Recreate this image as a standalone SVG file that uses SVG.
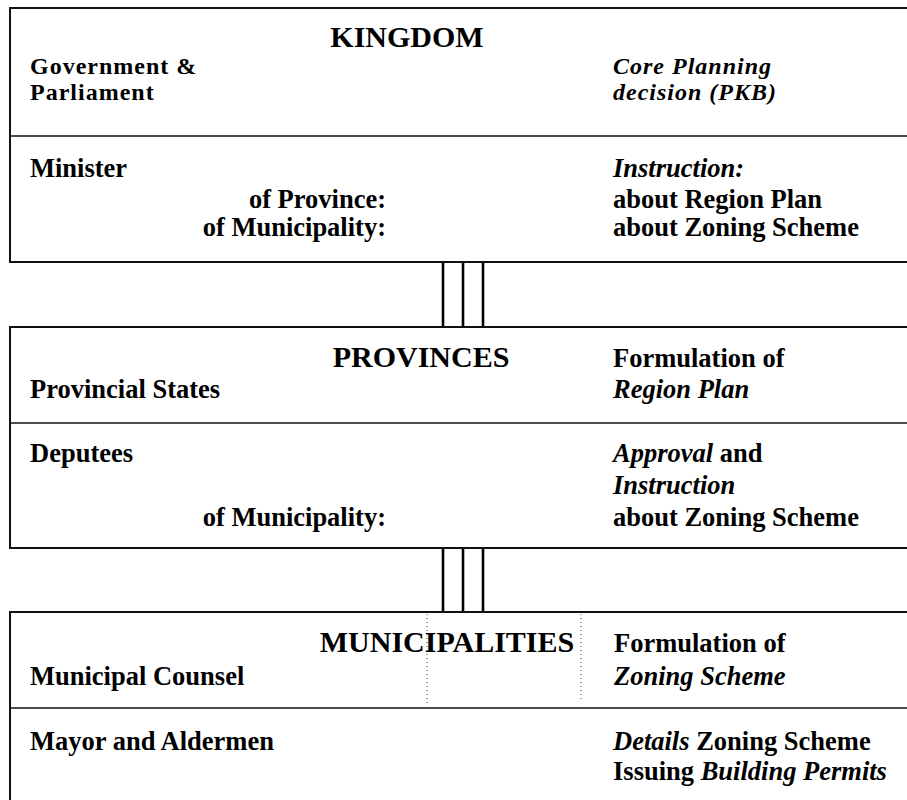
<svg xmlns="http://www.w3.org/2000/svg" width="907" height="800" viewBox="0 0 907 800">
  <style>
    .frame { fill: #ffffff; stroke: #111; stroke-width: 2; }
    .rule { stroke: #111; stroke-width: 1.6; fill: none; }
    .speck { stroke: #444; stroke-width: 1; stroke-dasharray: 1 3; fill: none; }
    .link { stroke: #000; stroke-width: 2.6; fill: none; }
    text { font-family: "Liberation Serif", "Times New Roman", serif; font-weight: bold; fill: #000; }
    .t { font-size: 26.5px; }
    .s { font-size: 24px; letter-spacing: 1px; }
    .head { font-size: 30px; }
    .it { font-style: italic; }
    .r { text-anchor: end; }
  </style>
  <rect width="907" height="800" fill="#fff"/>

  <!-- links between the three levels -->
  <g id="connectors">
    <line class="link" x1="443" y1="262" x2="443" y2="327"/>
    <line class="link" x1="463" y1="262" x2="463" y2="327"/>
    <line class="link" x1="483" y1="262" x2="483" y2="327"/>
    <line class="link" x1="443" y1="548" x2="443" y2="612"/>
    <line class="link" x1="463" y1="548" x2="463" y2="612"/>
    <line class="link" x1="483" y1="548" x2="483" y2="612"/>
  </g>

  <!-- national level -->
  <g id="kingdom">
    <rect class="frame" x="10" y="8" width="910" height="254"/>
    <line class="rule" x1="10" y1="136" x2="907" y2="136"/>
    <text class="head" x="407" y="47" text-anchor="middle">KINGDOM</text>
    <text class="s" x="30" y="74">Government &amp;</text>
    <text class="s" x="30" y="100">Parliament</text>
    <text class="s it" x="613" y="74">Core Planning</text>
    <text class="s it" x="613" y="100">decision (PKB)</text>
    <text class="t" x="30" y="177">Minister</text>
    <text class="t r" x="386" y="208">of Province:</text>
    <text class="t r" x="386" y="236">of Municipality:</text>
    <text class="t it" x="613" y="177">Instruction:</text>
    <text class="t" x="613" y="208">about Region Plan</text>
    <text class="t" x="613" y="236">about Zoning Scheme</text>
  </g>

  <!-- provincial level -->
  <g id="provinces">
    <rect class="frame" x="10" y="327" width="910" height="221"/>
    <line class="rule" x1="10" y1="423" x2="907" y2="423"/>
    <text class="head" x="421" y="367" text-anchor="middle">PROVINCES</text>
    <text class="t" x="613" y="367">Formulation of</text>
    <text class="t" x="30" y="398">Provincial States</text>
    <text class="t it" x="613" y="398">Region Plan</text>
    <text class="t" x="30" y="462">Deputees</text>
    <text class="t" x="613" y="462"><tspan class="it">Approval</tspan> and</text>
    <text class="t it" x="613" y="494">Instruction</text>
    <text class="t r" x="386" y="526">of Municipality:</text>
    <text class="t" x="613" y="526">about Zoning Scheme</text>
  </g>

  <!-- municipal level -->
  <g id="municipalities">
    <rect class="frame" x="10" y="612" width="910" height="200"/>
    <line class="rule" x1="10" y1="708" x2="907" y2="708"/>
    <path class="speck" d="M427 614 V706 M581 614 V700"/>
    <text class="head" x="447" y="652" text-anchor="middle">MUNICIPALITIES</text>
    <text class="t" x="614" y="652">Formulation of</text>
    <text class="t" x="30" y="685">Municipal Counsel</text>
    <text class="t it" x="614" y="685">Zoning Scheme</text>
    <text class="t" x="30" y="750">Mayor and Aldermen</text>
    <text class="t" x="613" y="750"><tspan class="it">Details</tspan> Zoning Scheme</text>
    <text class="t" x="613" y="780">Issuing <tspan class="it">Building Permits</tspan></text>
  </g>
</svg>
